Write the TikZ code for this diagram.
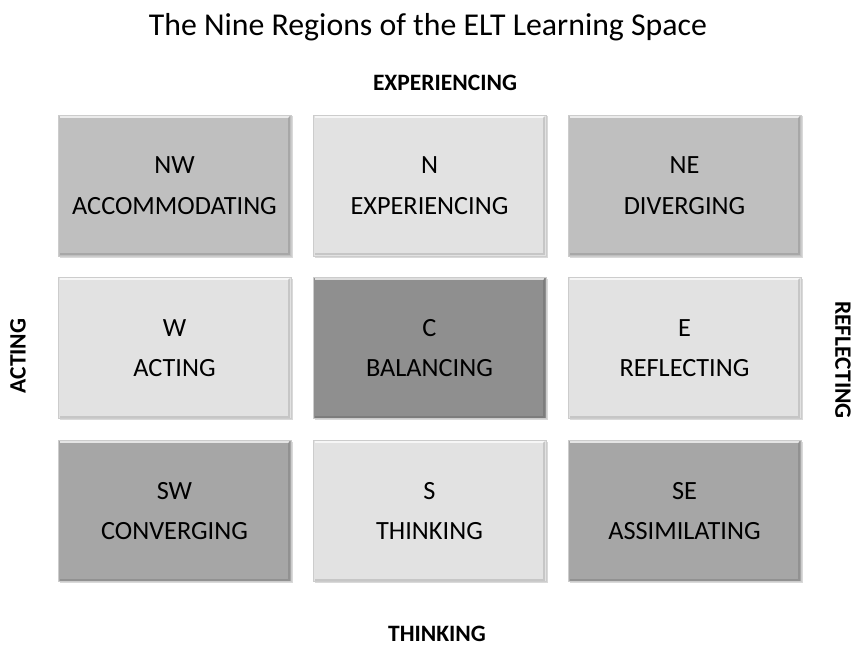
\documentclass[tikz,border=0pt]{standalone}
\usepackage{fontspec}
\setmainfont{Carlito}
\usetikzlibrary{shadows}
\definecolor{gA}{HTML}{BFBFBF}
\definecolor{gB}{HTML}{E2E2E2}
\definecolor{gC}{HTML}{8F8F8F}
\definecolor{gD}{HTML}{A6A6A6}
\tikzset{
  region/.style={minimum width=233pt, minimum height=141pt, inner sep=0pt, align=center,
    font=\fontsize{26.3}{40.5}\selectfont, text=black,
    draw=black!20, line width=0.6pt,
    drop shadow={shadow xshift=1.5pt, shadow yshift=-1.5pt, fill=black!25, opacity=0.6}},
  axis/.style={font=\bfseries\fontsize{23.5}{25}\selectfont},
}
\begin{document}
\begin{tikzpicture}[x=1pt,y=-1pt]
\useasboundingbox (0,0) rectangle (858,647);
\node[font=\fontsize{31.8}{34}\selectfont] (title) at (428,27) {The Nine Regions of the ELT Learning Space};
\node[axis] (top) at (445,83) {EXPERIENCING};
\node[axis] (bot) at (437,634) {THINKING};
\node[axis, rotate=90] (left) at (18,356) {ACTING};
\node[axis, rotate=-90] (right) at (843,360) {REFLECTING};

\node[region, fill=gA] (nw) at (174.5,185.5) {NW\\ACCOMMODATING};
\node[region, fill=gB] (n) at (429.5,185.5) {N\\EXPERIENCING};
\node[region, fill=gA] (ne) at (684.5,185.5) {NE\\DIVERGING};
\node[region, fill=gB] (w) at (174.5,348) {W\\ACTING};
\node[region, fill=gC] (c) at (429.5,348) {C\\BALANCING};
\node[region, fill=gB] (e) at (684.5,348) {E\\REFLECTING};
\node[region, fill=gD] (sw) at (174.5,511) {SW\\CONVERGING};
\node[region, fill=gB] (s) at (429.5,511) {S\\THINKING};
\node[region, fill=gD] (se) at (684.5,511) {SE\\ASSIMILATING};

\foreach \b in {nw,n,ne,w,c,e,sw,s,se}{
  \draw[white, line width=2pt, opacity=0.7] ([xshift=2pt,yshift=-2pt]\b.north west) -- ([xshift=-2pt,yshift=-2pt]\b.north east);
  \draw[black, line width=2pt, opacity=0.12] ([xshift=-2pt,yshift=-2pt]\b.north east) -- ([xshift=-2pt,yshift=2pt]\b.south east) -- ([xshift=2pt,yshift=2pt]\b.south west);
}
\end{tikzpicture}
\end{document}
